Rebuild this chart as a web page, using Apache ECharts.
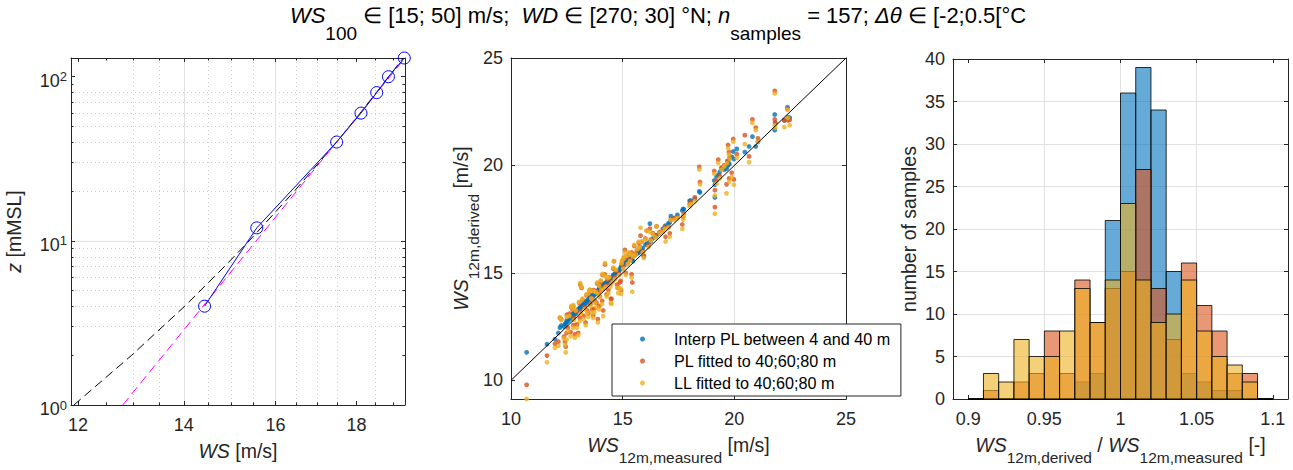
<!DOCTYPE html>
<html><head><meta charset="utf-8">
<script src="https://cdn.jsdelivr.net/npm/echarts@6/dist/echarts.min.js"></script>
<style>html,body{margin:0;padding:0;background:#fff}#c{width:1293px;height:470px}</style>
</head><body><div id="c"></div>
<script>
// ---------- Left panel: wind profile ----------
const profileZ  = [4, 12, 40, 60, 80, 100, 130];
const profileWS = [14.43, 15.57, 17.49, 18.12, 18.54, 18.86, 19.30];
const blackFitZ  = [1, 2, 4, 7, 10, 20, 40, 60, 80, 100, 130];
const blackFitWS = [11.93, 12.97, 14.02, 14.86, 15.40, 16.44, 17.49, 18.10, 18.53, 18.87, 19.27];
const magentaFitZ  = [1, 130];
const magentaFitWS = [12.81, 19.32];
const leftXTicks = [12, 14, 16, 18];
const leftXMinor = [12.5, 13, 13.5, 14.5, 15, 15.5, 16.5, 17, 17.5, 18.5, 19];
const leftYTicks = [1, 10, 100];
const leftYTickExp = ['0', '1', '2'];
const leftYMinor = [2, 3, 4, 5, 6, 7, 8, 9, 20, 30, 40, 50, 60, 70, 80, 90];

// ---------- Middle panel: scatter ----------
const wsMeasured = [
 10.70,11.61,11.97,12.12,12.19,12.25,12.37,12.42,12.45,12.49,
 12.50,12.55,12.62,12.67,12.70,12.75,12.79,12.79,12.82,12.86,
 12.90,12.95,13.01,13.05,13.08,13.10,13.12,13.16,13.20,13.25,
 13.30,13.34,13.38,13.42,13.46,13.50,13.53,13.56,13.60,13.64,
 13.68,13.70,13.73,13.76,13.80,13.83,13.86,13.89,13.92,13.95,
 13.95,13.98,14.02,14.05,14.08,14.10,14.13,14.16,14.20,14.21,
 14.25,14.28,14.32,14.36,14.40,14.44,14.47,14.50,14.54,14.58,
 14.61,14.65,14.70,14.75,14.80,14.84,14.88,14.91,14.93,14.95,
 14.98,15.02,15.06,15.10,15.14,15.18,15.22,15.28,15.33,15.40,
 15.40,15.43,15.46,15.52,15.58,15.65,15.72,15.76,15.80,15.85,
 15.90,15.95,16.02,16.08,16.15,16.22,16.26,16.35,16.47,16.52,
 16.65,16.80,16.89,16.92,17.05,17.11,17.16,17.31,17.45,17.67,
 17.71,17.74,18.00,18.05,18.23,18.43,18.46,19.10,19.13,19.13,
 19.20,19.28,19.35,19.43,19.55,19.65,19.68,19.72,19.76,19.77,
 19.80,19.88,19.95,19.98,20.11,20.47,20.66,20.81,20.96,21.06,
 21.81,21.81,21.83,22.24,22.38,22.40,22.48];
const wsInterpPL = [
 11.30,11.68,11.91,12.20,12.45,12.55,12.50,12.60,12.65,12.70,
 12.80,12.75,12.90,12.85,13.00,13.05,13.10,12.95,13.05,13.15,
 13.10,13.20,13.30,13.35,13.25,13.40,13.35,13.45,13.50,13.55,
 13.50,13.65,13.70,13.60,13.75,13.80,13.85,13.75,13.90,13.95,
 13.90,14.00,14.05,14.00,14.10,14.05,14.15,14.10,14.20,14.25,
 14.30,14.20,14.30,14.35,14.30,14.40,14.40,14.45,14.50,14.45,
 14.55,14.50,14.60,14.65,14.70,14.65,14.70,14.80,14.75,14.90,
 14.90,14.95,15.00,15.00,15.05,15.10,15.16,15.25,15.20,15.31,
 15.25,15.35,15.40,15.45,15.40,15.50,15.55,15.60,15.65,15.70,
 15.60,15.65,15.54,15.80,15.85,15.90,15.95,15.97,16.05,16.10,
 16.15,15.77,16.30,16.35,16.40,17.29,16.46,16.60,16.70,16.75,
 16.85,17.05,17.14,17.20,17.30,17.35,17.64,17.55,17.70,17.90,
 17.98,17.95,18.35,18.36,18.45,18.79,18.74,19.30,19.10,18.51,
 19.49,19.55,19.70,19.86,19.80,19.85,19.95,20.20,20.05,20.07,
 20.35,20.40,20.65,20.30,20.77,20.62,20.88,21.34,20.88,21.10,
 22.37,21.64,22.00,22.10,22.71,22.25,22.22];
const wsPL = [
 9.79,11.15,11.70,11.80,12.90,12.85,12.03,11.80,11.56,12.20,
 13.05,12.45,13.10,12.25,13.40,13.30,12.57,13.43,12.90,12.14,
 13.20,12.60,12.21,13.60,12.90,14.45,13.20,14.30,13.75,13.00,
 13.40,12.69,13.95,13.25,13.10,14.10,14.21,13.55,13.85,13.30,
 13.02,14.20,13.33,13.70,14.15,13.60,14.50,12.85,14.10,13.45,
 14.47,13.90,14.60,14.25,13.70,14.90,13.25,14.30,14.93,15.39,
 14.40,14.00,14.70,14.20,14.80,14.45,13.79,13.79,14.60,15.20,
 15.54,14.80,15.10,14.45,14.30,14.95,14.55,14.63,14.20,15.40,
 15.55,15.30,15.70,16.07,15.00,15.75,15.45,15.90,15.60,14.93,
 15.95,14.55,15.80,16.25,15.90,16.05,16.40,16.22,16.73,16.45,
 16.00,15.80,16.60,16.96,16.30,17.06,16.55,16.85,16.76,17.17,
 16.90,16.95,17.14,16.68,17.15,16.84,17.50,17.55,17.60,17.25,
 17.60,17.75,18.20,18.29,18.51,19.93,19.23,19.74,18.06,18.85,
 19.30,20.27,19.50,19.90,20.00,19.12,20.20,20.95,20.62,19.40,
 20.40,19.66,21.23,19.35,20.53,21.41,20.42,22.14,21.76,21.26,
 23.47,22.14,21.95,22.10,22.63,22.10,22.12];
const wsLL = [
 9.13,10.84,11.51,11.60,12.93,12.80,11.95,11.65,11.30,11.90,
 12.95,12.30,13.00,12.05,13.45,13.35,12.44,13.50,12.80,11.98,
 13.25,12.45,12.10,13.65,12.75,14.52,13.10,14.35,13.80,12.85,
 13.30,12.57,14.00,13.15,12.95,14.15,14.20,13.45,13.80,13.15,
 12.90,14.15,13.17,13.60,14.10,13.40,14.55,12.69,14.00,13.30,
 14.39,13.85,14.65,14.20,13.55,14.95,12.99,14.25,14.85,15.45,
 14.35,13.90,14.75,14.05,14.80,14.35,13.60,13.56,14.55,15.25,
 15.55,14.70,15.15,14.30,14.06,14.90,14.27,14.25,14.02,15.45,
 15.60,15.20,15.75,15.95,14.90,15.80,15.40,15.95,15.55,14.78,
 15.86,14.12,15.75,16.30,15.85,16.10,16.45,16.18,17.10,16.45,
 15.95,15.70,16.55,16.96,16.20,16.91,16.50,16.80,16.65,17.15,
 16.85,16.90,17.05,16.46,17.10,16.68,17.45,17.46,17.55,17.04,
 17.48,17.70,18.10,18.20,18.33,19.81,19.12,19.61,17.75,18.60,
 19.15,20.12,19.40,19.80,19.95,18.70,20.10,20.80,20.50,19.25,
 20.30,19.46,21.11,19.10,20.35,20.99,20.15,21.98,21.64,21.11,
 23.35,21.87,21.75,21.78,22.60,22.22,21.87];
const seriesNames = ['Interp PL between 4 and 40 m', 'PL fitted to 40;60;80 m', 'LL fitted to 40;60;80 m'];
const midTicks = [10, 15, 20, 25];
const diagonal = [10, 25];

// ---------- Right panel: histograms ----------
const binLeft = [0.90,0.91,0.92,0.93,0.94,0.95,0.96,0.97,0.98,0.99,1.00,1.01,1.02,1.03,1.04,1.05,1.06,1.07,1.08,1.09];
const binWidth = 0.01;
const countsInterpPL = [0,0,0,0,0,0,0,2,3,21,36,39,34,15,3,2,1,1,0,0];
const countsPL       = [0,1,0,2,3,8,3,14,9,13,15,27,13,7,16,11,8,3,3,0];
const countsLL       = [0,3,2,7,5,5,8,13,9,14,23,14,9,10,14,8,5,4,2,0];
const rightXTicks = [0.9, 0.95, 1, 1.05, 1.1];
const rightYTicks = [0, 5, 10, 15, 20, 25, 30, 35, 40];

// ---------- styling ----------
const FONT = '"Liberation Sans", Arial, Helvetica, sans-serif';
const AX = '#262626';
const C1 = '#0072BD', C2 = '#D95319', C3 = '#EDB120';
const C1a = 'rgba(0,114,189,0.6)', C2a = 'rgba(217,83,25,0.6)', C3a = 'rgba(237,177,32,0.6)';
const GRID_MAJOR = {color: '#e1e1e1', width: 1, type: 'solid'};
const GRID_MINOR = {color: '#cdcdcd', width: 1, type: [1, 3]};
const TICK_FS = 18;

const nameRich = {
  i: {fontStyle: 'italic', fontWeight: 'normal', fontSize: 19.5, fontFamily: FONT, color: AX, lineHeight: 22, verticalAlign: 'top'},
  n: {fontWeight: 'normal', fontSize: 19.5, fontFamily: FONT, color: AX, lineHeight: 22, verticalAlign: 'top'},
  s: {fontWeight: 'normal', fontSize: 15.5, fontFamily: FONT, color: AX, lineHeight: 16, verticalAlign: 'top', padding: [14, 0, 0, 0]}
};
const nameStyle = {color: AX, fontFamily: FONT, fontSize: 19.5, fontWeight: 'normal', rich: nameRich};

function mkAxis(o) {
  const a = {
    type: o.type || 'value', gridIndex: o.grid, position: o.pos,
    min: o.min, max: o.max,
    axisLine: {show: o.line !== false, onZero: false, lineStyle: {color: AX, width: 1}},
    axisTick: {show: true, inside: true, length: o.tickLen || 4, customValues: o.ticks, lineStyle: {color: AX, width: 1}},
    axisLabel: o.labels ? {show: true, customValues: o.ticks, margin: o.margin, color: AX, fontSize: TICK_FS, fontFamily: FONT,
                formatter: o.formatter, rich: o.rich, padding: o.labelPadding} : {show: false},
    splitLine: o.split ? {show: true, showMinLine: false, showMaxLine: false, lineStyle: o.split} : {show: false},
    minorTick: {show: false}, minorSplitLine: {show: false},
    silent: true
  };
  if (a.type === 'log') a.logBase = 10;
  if (o.name) {
    Object.assign(a, {name: o.name, nameLocation: 'middle', nameGap: o.nameGap, nameRotate: o.nameRotate,
      nameTextStyle: nameStyle, nameMoveOverlap: false});
  }
  return a;
}

const L = {left: 71, top: 58, width: 334, height: 347};
const M = {left: 511, top: 58, width: 335, height: 347};
const R = {left: 953, top: 59, width: 335, height: 346};

const xAxis = [
  // left panel (grid 0: major, grid 1: minor)
  mkAxis({type: 'log', grid: 0, pos: 'bottom', min: 11.88, max: 19.32, ticks: leftXTicks, labels: true, margin: 11, split: GRID_MAJOR,
          name: '{i|WS}{n| [m/s]}', nameGap: 36}),
  mkAxis({type: 'log', grid: 0, pos: 'top', min: 11.88, max: 19.32, ticks: leftXTicks}),
  mkAxis({type: 'log', grid: 1, pos: 'bottom', min: 11.88, max: 19.32, ticks: leftXMinor, line: false, tickLen: 2.5, split: GRID_MINOR}),
  mkAxis({type: 'log', grid: 1, pos: 'top', min: 11.88, max: 19.32, ticks: leftXMinor, line: false, tickLen: 2.5}),
  // middle
  mkAxis({grid: 2, pos: 'bottom', min: 10, max: 25, ticks: midTicks, labels: true, margin: 11, split: GRID_MAJOR,
          name: '{i|WS}{s|12m,measured}{n| [m/s]}', nameGap: 36}),
  mkAxis({grid: 2, pos: 'top', min: 10, max: 25, ticks: midTicks}),
  // right
  mkAxis({grid: 3, pos: 'bottom', min: 0.89, max: 1.11, ticks: rightXTicks, labels: true, margin: 11, split: GRID_MAJOR,
          name: '{i|WS}{s|12m,derived}{n| / }{i|WS}{s|12m,measured}{n| [-]}', nameGap: 36}),
  mkAxis({grid: 3, pos: 'top', min: 0.89, max: 1.11, ticks: rightXTicks})
];

const yAxis = [
  mkAxis({type: 'log', grid: 0, pos: 'left', min: 1, max: 130, ticks: leftYTicks, labels: true, margin: 4, split: GRID_MAJOR,
          labelPadding: [5, 0, 0, 0],
          formatter: v => { const k = leftYTicks.findIndex(t => Math.abs(t - v) < 1e-6 * t); return '{b|10}{p|' + leftYTickExp[k] + '}'; },
          rich: {b: {fontSize: TICK_FS, fontFamily: FONT, color: AX, lineHeight: 18, verticalAlign: 'top', padding: [1.5, 0, 0, 0]},
                 p: {fontSize: 13, fontFamily: FONT, color: AX, lineHeight: 13, verticalAlign: 'top'}},
          name: '{i|z}{n| [mMSL]}', nameGap: 45, nameRotate: 90}),
  mkAxis({type: 'log', grid: 0, pos: 'right', min: 1, max: 130, ticks: leftYTicks}),
  mkAxis({type: 'log', grid: 1, pos: 'left', min: 1, max: 130, ticks: leftYMinor, line: false, tickLen: 2.5, split: GRID_MINOR}),
  mkAxis({type: 'log', grid: 1, pos: 'right', min: 1, max: 130, ticks: leftYMinor, line: false, tickLen: 2.5}),
  mkAxis({grid: 2, pos: 'left', min: 9.13, max: 25, ticks: midTicks, labels: true, margin: 8, split: GRID_MAJOR,
          name: '{i|WS}{s|12m,derived}{n| [m/s]}', nameGap: 38, nameRotate: 90}),
  mkAxis({grid: 2, pos: 'right', min: 9.13, max: 25, ticks: midTicks}),
  mkAxis({grid: 3, pos: 'left', min: 0, max: 40, ticks: rightYTicks, labels: true, margin: 8, split: GRID_MAJOR,
          name: '{n|number of samples}', nameGap: 32, nameRotate: 90}),
  mkAxis({grid: 3, pos: 'right', min: 0, max: 40, ticks: rightYTicks})
];

function histSeries(name, counts, fill) {
  return {
    type: 'custom', name: name, xAxisIndex: 6, yAxisIndex: 6, silent: true,
    data: binLeft.map((b, i) => [b, counts[i]]),
    renderItem: (params, api) => {
      const x0 = api.value(0), c = api.value(1);
      const p0 = api.coord([x0, 0]);
      const p1 = api.coord([x0 + binWidth, c]);
      return {type: 'rect',
        shape: {x: p0[0], y: p1[1], width: p1[0] - p0[0], height: p0[1] - p1[1]},
        style: {fill: fill, stroke: 'rgba(0,0,0,0.8)', lineWidth: 1}};
    }
  };
}

const titleRich = {
  i: {fontStyle: 'italic', fontWeight: 'normal', fontSize: 22, fontFamily: FONT, color: '#000', lineHeight: 26, verticalAlign: 'top'},
  n: {fontWeight: 'normal', fontSize: 22, fontFamily: FONT, color: '#000', lineHeight: 26, verticalAlign: 'top'},
  s: {fontWeight: 'normal', fontSize: 19, fontFamily: FONT, color: '#000', lineHeight: 20, verticalAlign: 'top', padding: [20, 0, 0, 0]}
};

const option = {
  animation: false,
  backgroundColor: '#fff',
  title: {
    text: '{i|WS}{s|100}{n| ∈ [15; 50] m/s;  }{i|WD}{n| ∈ [270; 30] °N; }{i|n}{s|samples}{n| = 157; }{i|Δθ}{n| ∈ [-2;0.5[°C}',
    left: 658, top: 4, textAlign: 'center', padding: 0,
    textStyle: {fontFamily: FONT, fontSize: 22, fontWeight: 'normal', color: '#000', rich: titleRich}
  },
  legend: {
    data: seriesNames, left: 612, top: 324, orient: 'vertical', icon: 'circle',
    itemWidth: 5, itemHeight: 5, itemGap: 6, padding: [7, 10, 5, 28],
    backgroundColor: '#fff', borderColor: AX, borderWidth: 1, borderRadius: 0, selectedMode: false,
    textStyle: {color: '#000', fontSize: 16.2, fontFamily: FONT, padding: [0, 0, 0, 24]}
  },
  grid: [
    Object.assign({show: false}, L), Object.assign({show: false}, L),
    Object.assign({show: false}, M), Object.assign({show: false}, R)
  ],
  xAxis: xAxis,
  yAxis: yAxis,
  series: [
    {type: 'line', name: 'll', xAxisIndex: 0, yAxisIndex: 0, symbol: 'none', silent: true,
     data: blackFitWS.map((w, i) => [w, blackFitZ[i]]), lineStyle: {color: '#000', width: 1, type: [9, 5]}},
    {type: 'line', name: 'pl', xAxisIndex: 0, yAxisIndex: 0, symbol: 'none', silent: true,
     data: magentaFitWS.map((w, i) => [w, magentaFitZ[i]]), lineStyle: {color: '#ff00ff', width: 1, type: [9, 5]}},
    {type: 'line', name: 'meas', xAxisIndex: 0, yAxisIndex: 0, silent: true, clip: false,
     symbol: 'circle', symbolSize: 12, showSymbol: true,
     itemStyle: {color: 'rgba(0,0,0,0)', borderColor: '#0000ff', borderWidth: 1},
     data: profileWS.map((w, i) => [w, profileZ[i]]), lineStyle: {color: '#0000ff', width: 1}},

    {type: 'scatter', name: seriesNames[0], xAxisIndex: 4, yAxisIndex: 4, symbolSize: 4.8, silent: true,
     itemStyle: {color: C1}, data: wsMeasured.map((m, i) => [m, wsInterpPL[i]])},
    {type: 'scatter', name: seriesNames[1], xAxisIndex: 4, yAxisIndex: 4, symbolSize: 4.8, silent: true,
     itemStyle: {color: C2}, data: wsMeasured.map((m, i) => [m, wsPL[i]])},
    {type: 'scatter', name: seriesNames[2], xAxisIndex: 4, yAxisIndex: 4, symbolSize: 4.8, silent: true,
     itemStyle: {color: C3}, data: wsMeasured.map((m, i) => [m, wsLL[i]])},
    {type: 'line', name: 'one-to-one', xAxisIndex: 4, yAxisIndex: 4, symbol: 'none', silent: true,
     data: diagonal.map(v => [v, v]), lineStyle: {color: '#000', width: 1}},

    histSeries('h1', countsInterpPL, C1a),
    histSeries('h2', countsPL, C2a),
    histSeries('h3', countsLL, C3a)
  ]
};

const chart = echarts.init(document.getElementById('c'), null, {renderer: 'svg', width: 1293, height: 470});
chart.setOption(option);
</script>
</body></html>
